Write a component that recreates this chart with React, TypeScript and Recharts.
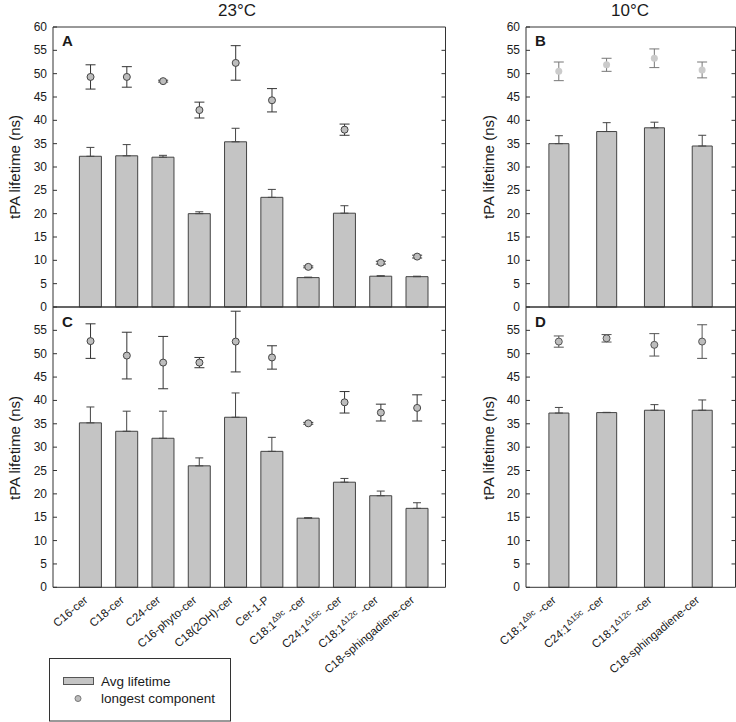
import React from "react";
import { ComposedChart, Bar, Line, XAxis, YAxis, ErrorBar, ReferenceLine } from "recharts";

const LEFT_CATS = [
  "C16-cer",
  "C18-cer",
  "C24-cer",
  "C16-phyto-cer",
  "C18(2OH)-cer",
  "Cer-1-P",
  "C18:1Δ9c -cer",
  "C24:1Δ15c -cer",
  "C18:1Δ12c -cer",
  "C18-sphingadiene-cer",
];
const RIGHT_CATS = ["C18:1Δ9c -cer", "C24:1Δ15c -cer", "C18:1Δ12c -cer", "C18-sphingadiene-cer"];

// panel A, 23°C
const A_AVG = [32.3, 32.4, 32.1, 20.0, 35.4, 23.5, 6.3, 20.1, 6.6, 6.5];
const A_AVG_ERR = [1.9, 2.4, 0.4, 0.4, 2.9, 1.7, 0.1, 1.6, 0.1, 0.1];
const A_LONG = [49.3, 49.3, 48.4, 42.2, 52.3, 44.3, 8.6, 38.0, 9.5, 10.8];
const A_LONG_ERR = [2.6, 2.2, 0.2, 1.7, 3.7, 2.5, 0.2, 1.2, 0.3, 0.3];

// panel B, 10°C
const B_AVG = [35.0, 37.6, 38.4, 34.5];
const B_AVG_ERR = [1.7, 1.9, 1.2, 2.3];
const B_LONG = [50.5, 51.9, 53.3, 50.8];
const B_LONG_ERR = [2.0, 1.4, 2.0, 1.7];

// panel C, 23°C
const C_AVG = [35.2, 33.4, 31.9, 26.0, 36.4, 29.1, 14.8, 22.5, 19.6, 16.9];
const C_AVG_ERR = [3.4, 4.3, 5.8, 1.7, 5.2, 3.0, 0.1, 0.8, 1.0, 1.2];
const C_LONG = [52.7, 49.6, 48.1, 48.1, 52.6, 49.2, 35.1, 39.6, 37.4, 38.4];
const C_LONG_ERR = [3.7, 5.0, 5.6, 1.1, 6.5, 2.5, 0.2, 2.3, 1.8, 2.8];

// panel D, 10°C
const D_AVG = [37.3, 37.4, 37.9, 37.9];
const D_AVG_ERR = [1.2, 0.05, 1.2, 2.2];
const D_LONG = [52.6, 53.3, 51.9, 52.6];
const D_LONG_ERR = [1.2, 0.8, 2.4, 3.6];

const TICKS_FULL = [0, 5, 10, 15, 20, 25, 30, 35, 40, 45, 50, 55, 60];
const TICKS_LOWER = [0, 5, 10, 15, 20, 25, 30, 35, 40, 45, 50, 55];
const TICKS_RIGHT = [5, 10, 15, 20, 25, 30, 35, 40, 45, 50, 55];

const FONT = "'Liberation Sans', Arial, sans-serif";
const AXIS = "#333";
const TEXT = "#1a1a1a";
const BAR_FILL = "#c4c4c4";
const BAR_STROKE = "#444";

function LeftTick({ x, y, payload }: any) {
  return (
    <g>
      <line x1={x} x2={x + 4} y1={y} y2={y} stroke={AXIS} />
      <text x={x - 6} y={y} textAnchor="end" dominantBaseline="central" fontSize={12} fill={TEXT} fontFamily={FONT}>
        {payload.value}
      </text>
    </g>
  );
}

function RightTick({ x, y }: any) {
  return <line x1={x - 4} x2={x} y1={y} y2={y} stroke={AXIS} />;
}

function CatTick({ x, y, payload }: any) {
  const ax = x - 2;
  const ay = y + 14;
  const m = /^(.*?)(Δ\S+)\s(.*)$/.exec(payload.value);
  return (
    <text
      x={ax}
      y={ay}
      transform={`rotate(-40 ${ax} ${ay})`}
      textAnchor="end"
      fontSize={11.5}
      fill={TEXT}
      fontFamily={FONT}
    >
      {m ? (
        <>
          <tspan>{m[1]}</tspan>
          <tspan dy={-4} fontSize={8.5}>{m[2]}</tspan>
          <tspan dy={4} dx={4}>{m[3]}</tspan>
        </>
      ) : (
        payload.value
      )}
    </text>
  );
}

function Panel(props: any) {
  const {
    cats, avg, avgErr, long, longErr, width, height, margin, yWidth, pad, barSize,
    yTicks, labels, ptFill, ptStroke, ptErr,
  } = props;
  const rows = cats.map((name: string, i: number) => ({
    name,
    avg: avg[i],
    avgErr: [0, avgErr[i]],
    long: long[i],
    longErr: longErr[i],
  }));
  return (
    <ComposedChart width={width} height={height} data={rows} margin={margin}>
      <XAxis
        dataKey="name"
        height={1}
        padding={pad}
        axisLine={{ stroke: AXIS }}
        tickLine={false}
        tickSize={0}
        tickMargin={0}
        interval={0}
        tick={labels ? (p: any) => <CatTick {...p} /> : false}
      />
      <YAxis
        yAxisId="l"
        type="number"
        domain={[0, 60]}
        ticks={yTicks}
        interval={0}
        width={yWidth}
        axisLine={{ stroke: AXIS }}
        tickLine={false}
        tickSize={0}
        tickMargin={0}
        tick={(p: any) => <LeftTick {...p} />}
      />
      <YAxis
        yAxisId="r"
        orientation="right"
        type="number"
        domain={[0, 60]}
        ticks={TICKS_RIGHT}
        interval={0}
        width={1}
        axisLine={{ stroke: AXIS }}
        tickLine={false}
        tickSize={0}
        tickMargin={0}
        tick={(p: any) => <RightTick {...p} />}
      />
      <ReferenceLine yAxisId="l" y={60} stroke={AXIS} />
      <Bar
        yAxisId="l"
        dataKey="avg"
        fill={BAR_FILL}
        stroke={BAR_STROKE}
        strokeWidth={1}
        barSize={barSize}
        isAnimationActive={false}
      >
        <ErrorBar dataKey="avgErr" width={4} stroke="#444" strokeWidth={1} direction="y" />
      </Bar>
      <Line
        yAxisId="r"
        dataKey="long"
        stroke="none"
        dot={{ r: 3.5, fill: ptFill, stroke: ptStroke, strokeWidth: 1 }}
        activeDot={false}
        isAnimationActive={false}
      >
        <ErrorBar dataKey="longErr" width={5} stroke={ptErr} strokeWidth={1} direction="y" />
      </Line>
    </ComposedChart>
  );
}

const yLabelStyle = { fontSize: 15, fill: TEXT, fontFamily: FONT } as const;

export default function App() {
  const leftPad = { left: 19.4, right: 10.2 };
  const rightPad = { left: 8.9, right: 9.5 };
  const topMargin = { top: 27, right: 13.5, bottom: 12, left: 0 };
  const lowMargin = { top: 17, right: 13.5, bottom: 133.7, left: 0 };
  return (
    <div style={{ position: "absolute", left: 0, top: 0, width: 736, height: 722, background: "#fff", fontFamily: FONT }}>
      <div style={{ position: "absolute", left: 0, top: 0 }}>
        <Panel
          cats={LEFT_CATS} avg={A_AVG} avgErr={A_AVG_ERR} long={A_LONG} longErr={A_LONG_ERR}
          width={460} height={320} margin={topMargin} yWidth={53} pad={leftPad} barSize={22}
          yTicks={TICKS_FULL} labels={false} ptFill="#bdbdbd" ptStroke="#444" ptErr="#333"
        />
      </div>
      <div style={{ position: "absolute", left: 0, top: 290 }}>
        <Panel
          cats={LEFT_CATS} avg={C_AVG} avgErr={C_AVG_ERR} long={C_LONG} longErr={C_LONG_ERR}
          width={460} height={432} margin={lowMargin} yWidth={53} pad={leftPad} barSize={22}
          yTicks={TICKS_LOWER} labels={true} ptFill="#bdbdbd" ptStroke="#444" ptErr="#333"
        />
      </div>
      <div style={{ position: "absolute", left: 460, top: 0 }}>
        <Panel
          cats={RIGHT_CATS} avg={B_AVG} avgErr={B_AVG_ERR} long={B_LONG} longErr={B_LONG_ERR}
          width={276} height={320} margin={{ ...topMargin, right: -0.5 }} yWidth={66} pad={rightPad} barSize={20}
          yTicks={TICKS_FULL} labels={false} ptFill="#cbcbcb" ptStroke="none" ptErr="#777"
        />
      </div>
      <div style={{ position: "absolute", left: 460, top: 290 }}>
        <Panel
          cats={RIGHT_CATS} avg={D_AVG} avgErr={D_AVG_ERR} long={D_LONG} longErr={D_LONG_ERR}
          width={276} height={432} margin={{ ...lowMargin, right: -0.5 }} yWidth={66} pad={rightPad} barSize={20}
          yTicks={TICKS_LOWER} labels={true} ptFill="#bdbdbd" ptStroke="#555" ptErr="#555"
        />
      </div>
      <svg width={736} height={722} style={{ position: "absolute", left: 0, top: 0, pointerEvents: "none" }}>
        <text x={237} y={16} textAnchor="middle" fontSize={17} fill={TEXT} fontFamily={FONT}>23°C</text>
        <text x={630} y={16} textAnchor="middle" fontSize={17} fill={TEXT} fontFamily={FONT}>10°C</text>

        <text transform="translate(14 167) rotate(-90)" textAnchor="middle" dominantBaseline="central" {...yLabelStyle}>tPA lifetime (ns)</text>
        <text transform="translate(14 448) rotate(-90)" textAnchor="middle" dominantBaseline="central" {...yLabelStyle}>tPA lifetime (ns)</text>
        <text transform="translate(488 167) rotate(-90)" textAnchor="middle" dominantBaseline="central" {...yLabelStyle}>tPA lifetime (ns)</text>
        <text transform="translate(488 448) rotate(-90)" textAnchor="middle" dominantBaseline="central" {...yLabelStyle}>tPA lifetime (ns)</text>

        <text x={62} y={46} fontSize={15} fontWeight="bold" fill={TEXT} fontFamily={FONT}>A</text>
        <text x={535} y={46} fontSize={15} fontWeight="bold" fill={TEXT} fontFamily={FONT}>B</text>
        <text x={62} y={327} fontSize={15} fontWeight="bold" fill={TEXT} fontFamily={FONT}>C</text>
        <text x={535} y={327} fontSize={15} fontWeight="bold" fill={TEXT} fontFamily={FONT}>D</text>

        <rect x={49.5} y={658.5} width={181} height={62.5} fill="none" stroke={AXIS} />
        <rect x={63.5} y={677.5} width={30} height={7} fill={BAR_FILL} stroke="#555" />
        <circle cx={78} cy={698.5} r={3} fill="#bdbdbd" stroke="#777" />
        <text x={101} y={686} fontSize={13.5} fill={TEXT} fontFamily={FONT}>Avg lifetime</text>
        <text x={101} y={703} fontSize={13.5} fill={TEXT} fontFamily={FONT}>longest component</text>
      </svg>
    </div>
  );
}
